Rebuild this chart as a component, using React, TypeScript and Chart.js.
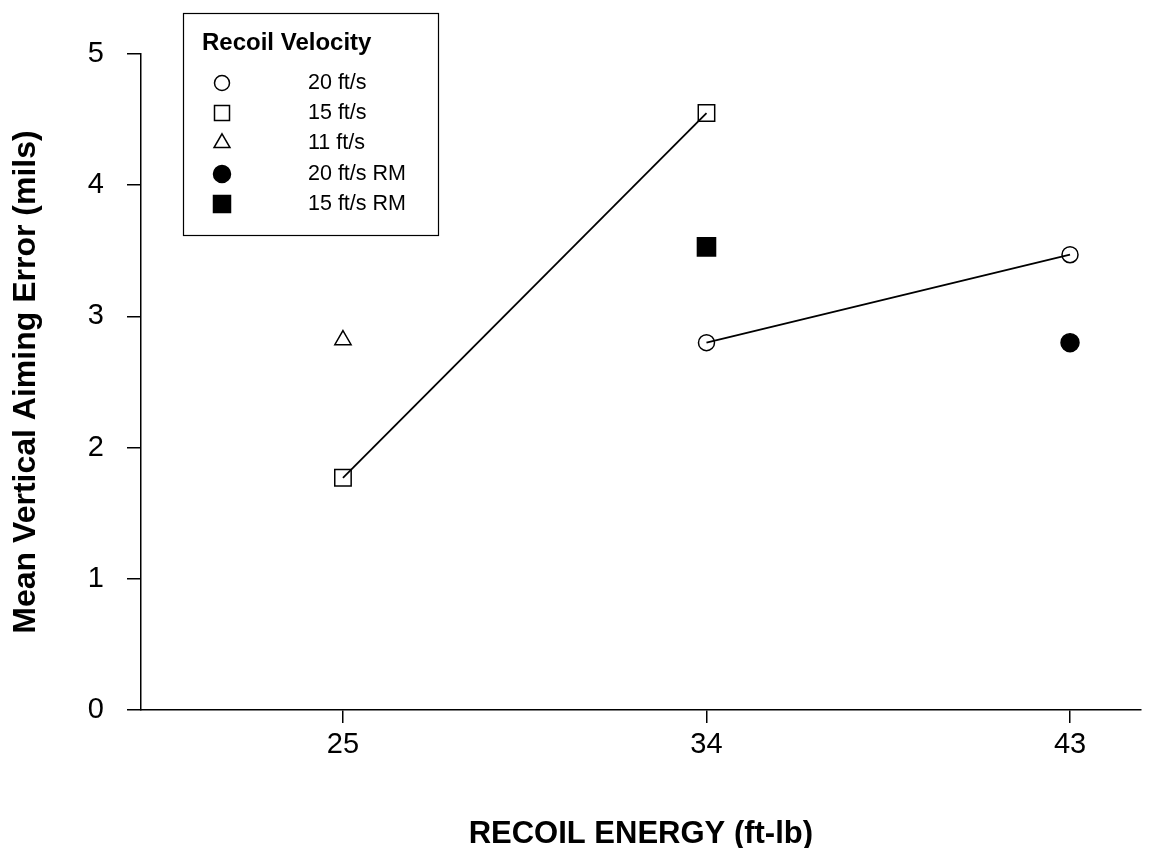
import React, { useEffect, useRef } from 'react';
import { Chart, registerables } from 'chart.js';

Chart.register(...registerables);

// ---------- data ----------
const xTickValues = [25, 34, 43];
const yTickValues = [0, 1, 2, 3, 4, 5];
const seriesLabels = ['20 ft/s', '15 ft/s', '11 ft/s', '20 ft/s RM', '15 ft/s RM'];

const v20X = [34, 43];
const v20Y = [2.8, 3.47];
const v15X = [25, 34];
const v15Y = [1.77, 4.55];
const v11X = [25];
const v11Y = [2.82];
const v20rmX = [43];
const v20rmY = [2.8];
const v15rmX = [34];
const v15rmY = [3.53];

const X_TITLE = 'RECOIL ENERGY (ft-lb)';
const Y_TITLE = 'Mean Vertical Aiming Error (mils)';
const LEGEND_TITLE = 'Recoil Velocity';

const FONT = '"Liberation Sans", Arial, Helvetica, sans-serif';

const pts = (xs: number[], ys: number[]) => xs.map((x, i) => ({ x, y: ys[i] }));

type Marker = { style: string; filled: boolean; r: number };
const legendMarkers: Marker[] = [
  { style: 'circle', filled: false, r: 7.5 },
  { style: 'rect', filled: false, r: 7.5 },
  { style: 'triangle', filled: false, r: 9.2 },
  { style: 'circle', filled: true, r: 8.5 },
  { style: 'rect', filled: true, r: 8.5 },
];

function drawMarker(ctx: CanvasRenderingContext2D, m: Marker, x: number, y: number) {
  ctx.beginPath();
  if (m.style === 'circle') {
    ctx.arc(x, y, m.r, 0, Math.PI * 2);
  } else if (m.style === 'rect') {
    ctx.rect(x - m.r, y - m.r, m.r * 2, m.r * 2);
  } else {
    const r = m.r;
    ctx.moveTo(x, y - r);
    ctx.lineTo(x + r * Math.sin((2 * Math.PI) / 3), y + r / 2);
    ctx.lineTo(x - r * Math.sin((2 * Math.PI) / 3), y + r / 2);
    ctx.closePath();
  }
  if (m.filled) {
    ctx.fill();
  }
  ctx.stroke();
}

const legendPlugin = {
  id: 'boxLegend',
  afterDraw(chart: any) {
    const ctx: CanvasRenderingContext2D = chart.ctx;
    ctx.save();
    ctx.strokeStyle = '#000';
    ctx.fillStyle = '#000';
    ctx.lineWidth = 1.2;
    ctx.strokeRect(183.5, 13.5, 255, 222);
    ctx.textBaseline = 'middle';
    ctx.textAlign = 'left';
    ctx.font = `bold 24px ${FONT}`;
    ctx.fillText(LEGEND_TITLE, 202, 43);
    const rowY = [83, 113, 143, 174, 204];
    chart.data.datasets.forEach((ds: any, i: number) => {
      ctx.lineWidth = 1.5;
      drawMarker(ctx, legendMarkers[i], 222, rowY[i]);
      ctx.font = `21.5px ${FONT}`;
      ctx.fillText(ds.label, 308, rowY[i]);
    });
    ctx.restore();
  },
};

export default function App() {
  const ref = useRef<HTMLCanvasElement | null>(null);

  useEffect(() => {
    document.body.style.margin = '0';
    if (!ref.current) return;
    Chart.defaults.font.family = FONT;
    Chart.defaults.color = '#000';

    const common = {
      borderColor: '#000',
      pointBorderColor: '#000',
      pointBorderWidth: 1.5,
      borderWidth: 1.8,
    };

    const chart = new Chart(ref.current, {
      type: 'scatter',
      data: {
        datasets: [
          {
            ...common,
            label: seriesLabels[0],
            data: pts(v20X, v20Y),
            showLine: true,
            pointStyle: 'circle',
            pointRadius: 8,
            pointBackgroundColor: 'rgba(0,0,0,0)',
          },
          {
            ...common,
            label: seriesLabels[1],
            data: pts(v15X, v15Y),
            showLine: true,
            pointStyle: 'rect',
            pointRadius: 11.6,
            pointBackgroundColor: 'rgba(0,0,0,0)',
          },
          {
            ...common,
            label: seriesLabels[2],
            data: pts(v11X, v11Y),
            showLine: false,
            pointStyle: 'triangle',
            pointRadius: 9.4,
            pointBackgroundColor: 'rgba(0,0,0,0)',
          },
          {
            ...common,
            label: seriesLabels[3],
            data: pts(v20rmX, v20rmY),
            showLine: false,
            pointStyle: 'circle',
            pointRadius: 9,
            pointBackgroundColor: '#000',
          },
          {
            ...common,
            label: seriesLabels[4],
            data: pts(v15rmX, v15rmY),
            showLine: false,
            pointStyle: 'rect',
            pointRadius: 12.8,
            pointBackgroundColor: '#000',
          },
        ] as any,
      },
      options: {
        animation: false,
        responsive: false,
        maintainAspectRatio: false,
        layout: { padding: { top: 54, right: 2, left: 0, bottom: 0 } },
        plugins: {
          legend: { display: false },
          tooltip: { enabled: false },
        },
        scales: {
          x: {
            type: 'linear',
            min: 20,
            max: 44.75,
            afterBuildTicks: (scale: any) => {
              scale.ticks = xTickValues.map((v) => ({ value: v }));
            },
            afterFit: (scale: any) => {
              scale.height = 138;
            },
            border: { display: true, color: '#000', width: 1.5 },
            grid: {
              drawOnChartArea: false,
              drawTicks: true,
              tickLength: 13,
              color: '#000',
              lineWidth: 1.5,
            },
            ticks: {
              font: { size: 29 },
              color: '#000',
              padding: 5,
              maxRotation: 0,
              autoSkip: false,
            },
            title: {
              display: true,
              text: X_TITLE,
              font: { size: 31, weight: 'bold', lineHeight: 0.9 },
              color: '#000',
              padding: { top: 0, bottom: 0 },
            },
          },
          y: {
            type: 'linear',
            min: 0,
            max: 5,
            afterBuildTicks: (scale: any) => {
              scale.ticks = yTickValues.map((v) => ({ value: v }));
            },
            afterFit: (scale: any) => {
              scale.width = 141;
            },
            border: { display: true, color: '#000', width: 1.5 },
            grid: {
              drawOnChartArea: false,
              drawTicks: true,
              tickLength: 14,
              color: '#000',
              lineWidth: 1.5,
            },
            ticks: {
              font: { size: 29 },
              color: '#000',
              padding: 23,
              autoSkip: false,
            },
            title: {
              display: true,
              text: Y_TITLE,
              font: { size: 32, weight: 'bold', lineHeight: 1 },
              color: '#000',
              padding: { top: 10, bottom: 0 },
            },
          },
        },
      } as any,
      plugins: [legendPlugin],
    });

    return () => {
      chart.destroy();
    };
  }, []);

  return (
    <div style={{ position: 'fixed', left: 0, top: 0, width: 1155, height: 848, background: '#fff' }}>
      <canvas ref={ref} width={1155} height={848} style={{ width: 1155, height: 848 }} />
    </div>
  );
}
